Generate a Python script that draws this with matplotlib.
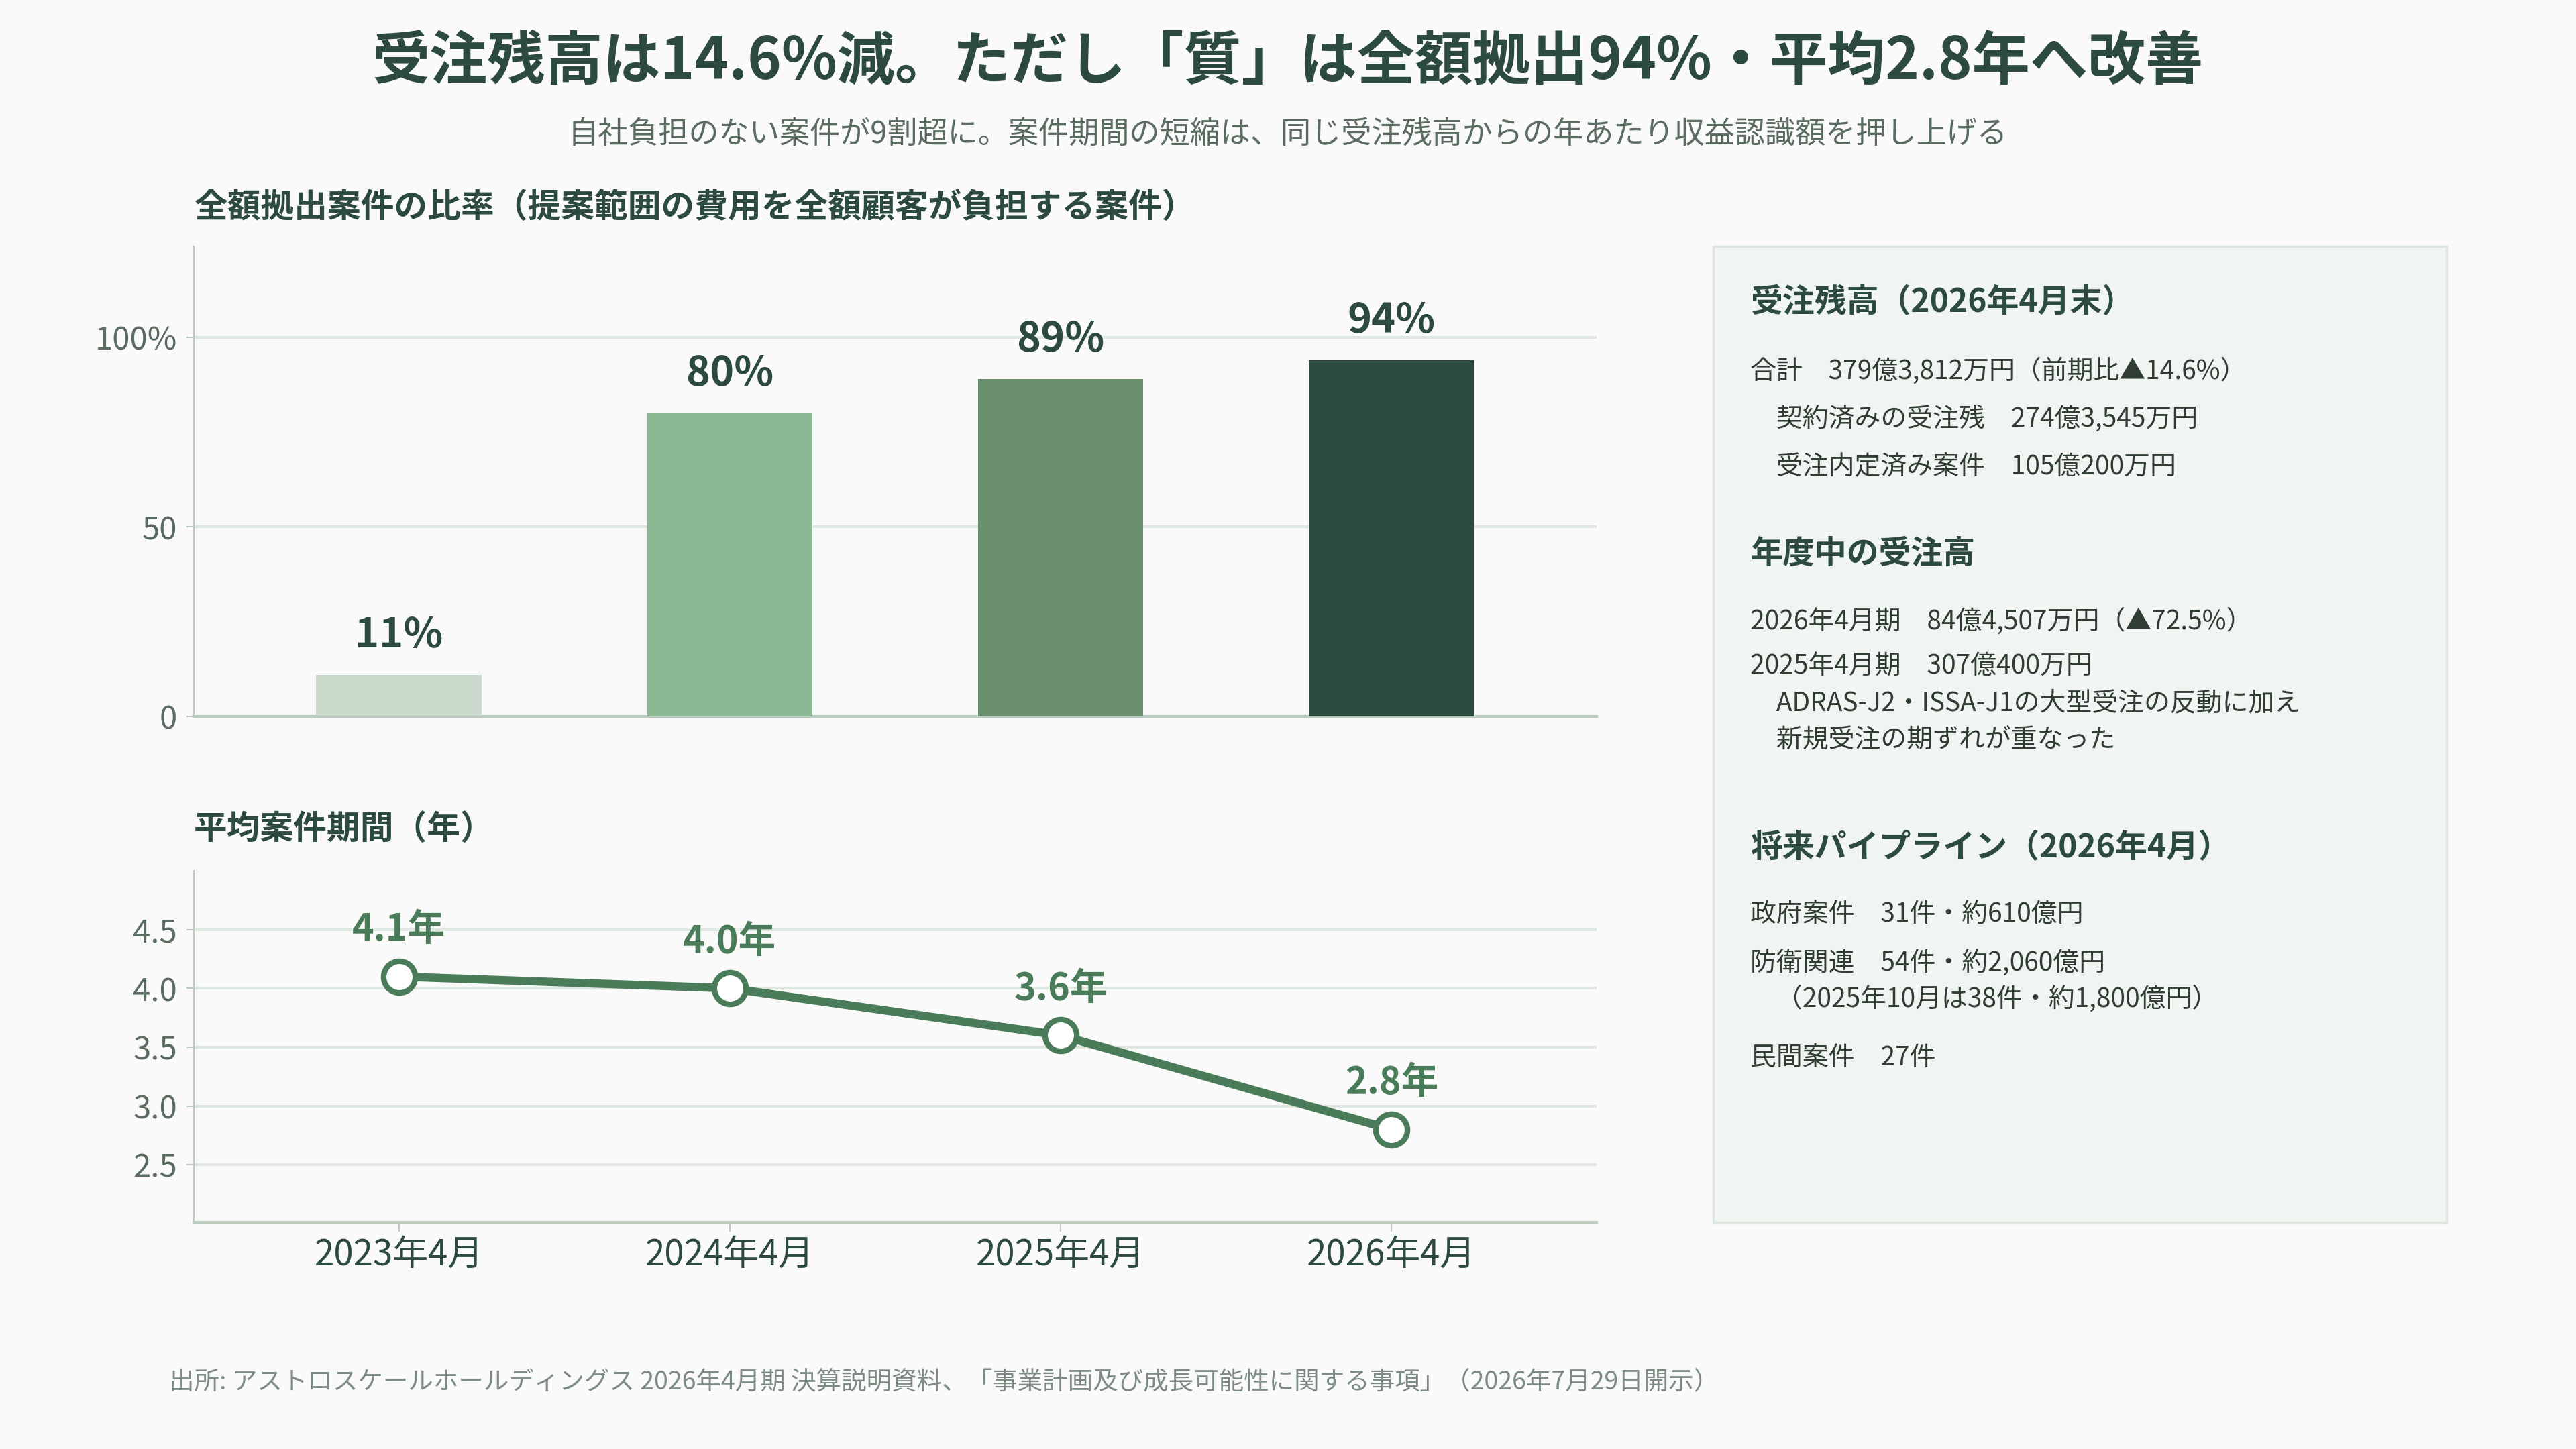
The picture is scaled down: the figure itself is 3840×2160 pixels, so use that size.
import matplotlib
matplotlib.use('Agg')
import matplotlib.pyplot as plt
from matplotlib.patches import Rectangle

plt.rcParams['font.family'] = ['Noto Sans CJK JP', 'DejaVu Sans']

# data
periods = ['2023年4月', '2024年4月', '2025年4月', '2026年4月']
full_funded_pct = [11, 80, 89, 94]
avg_duration_years = [4.1, 4.0, 3.6, 2.8]

bar_colors = ['#c8d9cc', '#8db896', '#6b9070', '#2d4a3e']
line_color = '#4a7c59'
dark = '#2d4a3e'
gray = '#5a6b60'
grid_c = '#dfe7e1'
spine_c = '#bccbc0'
bg = '#fafafa'

title = '受注残高は14.6%減。ただし「質」は全額拠出94%・平均2.8年へ改善'
subtitle = '自社負担のない案件が9割超に。案件期間の短縮は、同じ受注残高からの年あたり収益認識額を押し上げる'
bar_title = '全額拠出案件の比率（提案範囲の費用を全額顧客が負担する案件）'
line_title = '平均案件期間（年）'
source = '出所: アストロスケールホールディングス 2026年4月期 決算説明資料、「事業計画及び成長可能性に関する事項」（2026年7月29日開示）'

# side panel lines: (text, kind)
panel_lines = [
    ('受注残高（2026年4月末）', 'h'),
    ('合計　379億3,812万円（前期比▲14.6%）', 'b'),
    ('　契約済みの受注残　274億3,545万円', 'b'),
    ('　受注内定済み案件　105億200万円', 'b'),
    ('年度中の受注高', 'h'),
    ('2026年4月期　84億4,507万円（▲72.5%）', 'b'),
    ('2025年4月期　307億400万円', 'b'),
    ('　ADRAS-J2・ISSA-J1の大型受注の反動に加え', 'b'),
    ('　新規受注の期ずれが重なった', 'b'),
    ('将来パイプライン（2026年4月）', 'h'),
    ('政府案件　31件・約610億円', 'b'),
    ('防衛関連　54件・約2,060億円', 'b'),
    ('　（2025年10月は38件・約1,800億円）', 'b'),
    ('民間案件　27件', 'b'),
]
panel_y_px = [451, 553, 624, 696, 825, 926, 994, 1048, 1102, 1264, 1364, 1435, 1489, 1577]

W, H = 3840, 2160
fig = plt.figure(figsize=(W / 100, H / 100), dpi=100, facecolor=bg)

fig.text(0.5, 1 - 93 / H, title, ha='center', va='center', fontsize=62,
         fontweight='bold', color=dark)
fig.text(0.5, 1 - 200 / H, subtitle, ha='center', va='center', fontsize=32.5, color=gray)
fig.text(289 / W, 1 - 309 / H, bar_title, ha='left', va='center', fontsize=35.8,
         fontweight='bold', color=dark)
fig.text(289 / W, 1 - 1237 / H, line_title, ha='left', va='center', fontsize=35.8,
         fontweight='bold', color=dark)
fig.text(252 / W, 1 - 2060 / H, source, ha='left', va='center', fontsize=27, color='#7d8c82')


def style_axes(ax):
    ax.set_facecolor(bg)
    for s in ['top', 'right']:
        ax.spines[s].set_visible(False)
    ax.spines['left'].set_color(spine_c)
    ax.spines['left'].set_linewidth(1.5)
    ax.spines['bottom'].set_color(spine_c)
    ax.spines['bottom'].set_linewidth(3)
    ax.grid(axis='y', color=grid_c, linewidth=3)
    ax.set_axisbelow(True)
    ax.tick_params(axis='y', colors=gray, labelsize=34, length=8, width=1.5, pad=10)
    ax.tick_params(axis='y', color=spine_c)


# bar chart
x = list(range(len(periods)))
ax1 = fig.add_axes([289 / W, 1 - 1068 / H, (2380 - 289) / W, (1068 - 367) / H])
style_axes(ax1)
ax1.bar(x, full_funded_pct, width=0.5, color=bar_colors, zorder=3)
for xi, v in zip(x, full_funded_pct):
    ax1.annotate(f'{v}%', (xi, v), xytext=(0, 42), textcoords='offset points',
                 ha='center', va='center', fontsize=44, fontweight='bold', color=dark)
ax1.set_xlim(-0.62, 3.62)
ax1.set_ylim(0, 124)
ax1.set_yticks([0, 50, 100])
ax1.set_yticklabels(['0', '50', '100%'])
ax1.set_xticks([])

# line chart
ax2 = fig.add_axes([289 / W, 1 - 1822 / H, (2380 - 289) / W, (1822 - 1298) / H])
style_axes(ax2)
ax2.plot(x, avg_duration_years, color=line_color, linewidth=9, zorder=3,
         marker='o', markersize=34, markerfacecolor='white', markeredgecolor=line_color,
         markeredgewidth=6)
for xi, v in zip(x, avg_duration_years):
    ax2.annotate(f'{v:.1f}年', (xi, v), xytext=(0, 50), textcoords='offset points',
                 ha='center', va='center', fontsize=40, fontweight='bold', color=line_color)
ax2.set_xlim(-0.62, 3.62)
ax2.set_ylim(2.01, 5.0)
ax2.set_yticks([2.5, 3.0, 3.5, 4.0, 4.5])
ax2.set_yticklabels(['2.5', '3.0', '3.5', '4.0', '4.5'])
ax2.set_xticks(x)
ax2.set_xticklabels(periods)
ax2.tick_params(axis='x', colors=dark, labelsize=38, length=10, width=1.5, pad=5)
ax2.tick_params(axis='x', color=spine_c)

# side panel
px0, px1 = 2554, 3647
py0, py1 = 367, 1822
fig.patches.append(Rectangle((px0 / W, 1 - py1 / H), (px1 - px0) / W, (py1 - py0) / H,
                             transform=fig.transFigure, facecolor='#f1f5f2',
                             edgecolor='#dde6df', linewidth=2.5, zorder=0))
for (txt, kind), ypx in zip(panel_lines, panel_y_px):
    if kind == 'h':
        fig.text(2609 / W, 1 - ypx / H, txt, ha='left', va='center', fontsize=34.5,
                 fontweight='bold', color=dark)
    else:
        fig.text(2609 / W, 1 - ypx / H, txt, ha='left', va='center', fontsize=28,
                 color='#2f3d35')

fig.savefig('out.png', dpi=100, facecolor=bg)
